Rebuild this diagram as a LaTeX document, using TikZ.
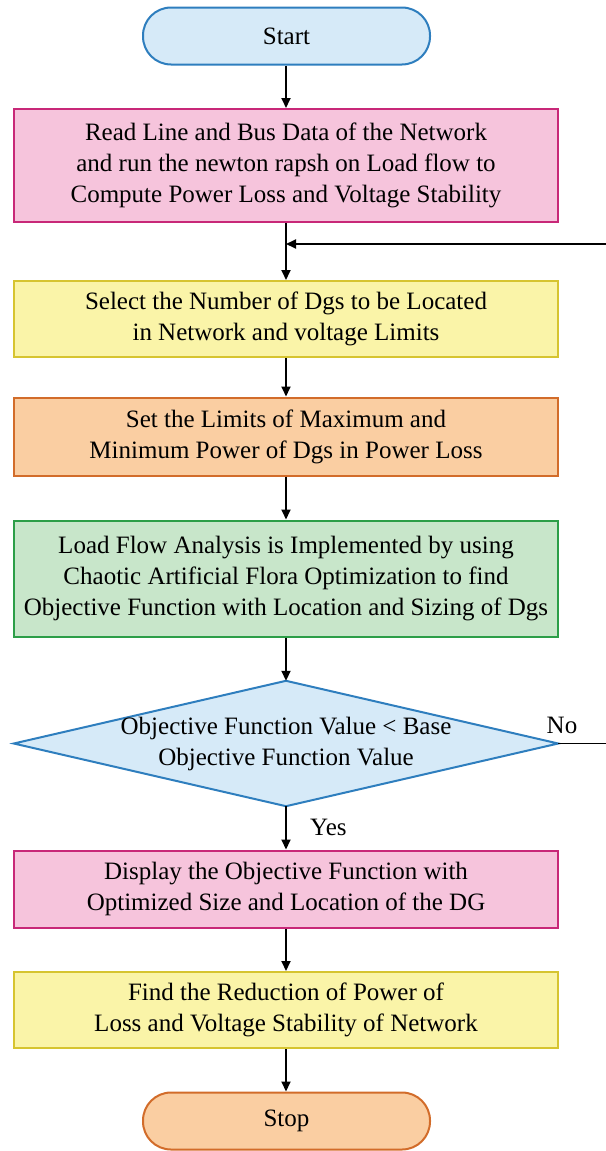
\documentclass[tikz,border=0pt]{standalone}
\usepackage{fontspec}
\setmainfont{Liberation Serif}
\usetikzlibrary{arrows.meta,calc}

\definecolor{termfill}{RGB}{214,234,248}
\definecolor{termline}{RGB}{46,126,190}
\definecolor{pinkfill}{RGB}{246,196,220}
\definecolor{pinkline}{RGB}{200,40,120}
\definecolor{yelfill}{RGB}{250,244,168}
\definecolor{yelline}{RGB}{214,196,48}
\definecolor{orgfill}{RGB}{250,206,162}
\definecolor{orgline}{RGB}{210,108,42}
\definecolor{grnfill}{RGB}{200,230,202}
\definecolor{grnline}{RGB}{44,158,72}

\tikzset{
  txt/.style={font=\fontsize{25}{31}\selectfont, align=center, text=black},
  procbox/.style={txt, draw, line width=2pt, minimum width=544pt, inner sep=0pt},
  pill/.style={txt, draw, line width=2pt, rounded corners=28pt, minimum width=287pt, minimum height=57pt, inner sep=0pt},
  flow/.style={line width=1.8pt, -{Triangle[length=10pt,width=9pt]}},
  plain/.style={line width=1.8pt}
}

\begin{document}
\begin{tikzpicture}[x=1pt,y=-1pt]
\useasboundingbox (0,0) rectangle (605,1151);

\node[pill, fill=termfill, draw=termline] (start) at (286.5,36) {Start};

\node[procbox, fill=pinkfill, draw=pinkline, minimum height=113pt] (b1) at (286,165.5)
  {Read Line and Bus Data of the Network\\and run the newton rapsh on Load flow to\\Compute Power Loss and Voltage Stability};

\node[procbox, fill=yelfill, draw=yelline, minimum height=76pt] (b2) at (286,319)
  {Select the Number of Dgs to be Located\\in Network and voltage Limits};

\node[procbox, fill=orgfill, draw=orgline, minimum height=78pt] (b3) at (286,436.5)
  {Set the Limits of Maximum and\\Minimum Power of Dgs in Power Loss};

\node[procbox, fill=grnfill, draw=grnline, minimum height=116pt] (b4) at (286,578.5)
  {Load Flow Analysis is Implemented by using\\Chaotic Artificial Flora Optimization to find\\Objective Function with Location and Sizing of Dgs};

% decision: an invisible frame whose side anchors carry the diamond
\node[txt, minimum width=544pt, minimum height=125pt, inner sep=0pt] (dec) at (286,743.5) {};
\draw[line width=2pt, draw=termline, fill=termfill]
  (dec.west) -- (dec.north) -- (dec.east) -- (dec.south) -- cycle;
\node[txt] at (dec.center) {Objective Function Value < Base\\Objective Function Value};

\node[procbox, fill=pinkfill, draw=pinkline, minimum height=77pt] (b5) at (286,889)
  {Display the Objective Function with\\Optimized Size and Location of the DG};

\node[procbox, fill=yelfill, draw=yelline, minimum height=76pt] (b6) at (286,1010)
  {Find the Reduction of Power of\\Loss and Voltage Stability of Network};

\node[pill, fill=orgfill, draw=orgline] (stop) at (286.5,1121) {Stop};

% main flow
\coordinate (join) at (b1.south |- 0,244);
\draw[flow] (start.south -| b1.north) -- (b1.north);
\draw[flow] (b1.south) -- (b2.north);
\draw[flow] (b2.south) -- (b3.north);
\draw[flow] (b3.south) -- (b4.north);
\draw[flow] (b4.south) -- (dec.north);
\draw[flow] (dec.south) -- node[txt, right, pos=0.5, xshift=20pt] (yes) {Yes} (b5.north);
\draw[flow] (b5.south) -- (b6.north);
\draw[flow] (b6.south) -- (stop.north -| b6.south);

% "No" branch loops back above the selection step
\coordinate (noturn) at (612,743.5);
\coordinate (upturn) at (612,244);
\node[txt, anchor=south west] (no) at ($(dec.east)+(-15,-6)$) {No};
\draw[flow] (dec.east) -- (noturn) -- (upturn) -- (join);
\end{tikzpicture}
\end{document}
